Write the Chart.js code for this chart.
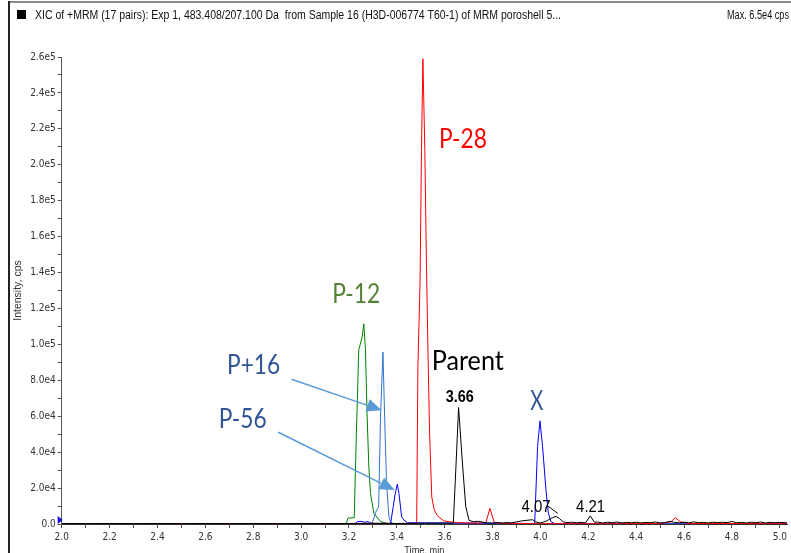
<!DOCTYPE html>
<html>
<head>
<meta charset="utf-8">
<script src="https://cdn.jsdelivr.net/npm/chart.js@4.4.0/dist/chart.umd.min.js"></script>
<style>
html, body { margin: 0; padding: 0; background: #fff; }
#wrap { width: 791px; height: 553px; position: relative; }
</style>
</head>
<body>
<div id="wrap"><canvas id="xic" width="791" height="553"></canvas></div>
<script>
// XIC traces (time in min, intensity in cps)
const parentTime = [
	2.00, 2.10, 2.20, 2.30, 2.40, 2.50, 2.60, 2.70, 2.80, 2.90,
	3.00, 3.10, 3.20, 3.30, 3.40, 3.50, 3.60, 3.636, 3.647, 3.658,
	3.674, 3.688, 3.702, 3.72, 3.74, 3.76, 3.78, 3.80, 3.82, 3.84,
	3.86, 3.88, 3.90, 3.92, 3.94, 3.967, 3.98, 3.995, 4.01, 4.03,
	4.045, 4.065, 4.08, 4.095, 4.11, 4.13, 4.15, 4.17, 4.188, 4.208,
	4.226, 4.24, 4.26, 4.28, 4.30, 4.32, 4.34, 4.36, 4.38, 4.40,
	4.42, 4.44, 4.46, 4.48, 4.50, 4.52, 4.54, 4.56, 4.58, 4.60,
	4.62, 4.64, 4.66, 4.68, 4.70, 4.72, 4.74, 4.76, 4.78, 4.80,
	4.82, 4.84, 4.86, 4.88, 4.90, 4.92, 4.94, 4.96, 4.98, 5.00,
	5.03
]
const parentInt = [
	300, 200, 300, 200, 300, 200, 300, 200, 300, 200,
	300, 200, 300, 400, 300, 400, 500, 500, 32000, 64800,
	34000, 9600, 2000, 1300, 1500, 1000, 600, 500, 900, 500,
	800, 600, 1200, 1700, 2000, 2400, 1200, 600, 900, 2000,
	3200, 4200, 3000, 1200, 800, 1000, 700, 900, 600, 4500,
	900, 1100, 600, 1000, 700, 1100, 600, 900, 700, 1000,
	600, 900, 700, 1100, 600, 800, 1500, 900, 700, 1000,
	600, 1200, 700, 900, 600, 1000, 700, 1000, 800, 1400,
	700, 900, 600, 1000, 700, 1100, 600, 900, 700, 900,
	700
]

const p28Time = [
	2.00, 3.476, 3.483, 3.488, 3.497, 3.503, 3.509, 3.517, 3.524, 3.530,
	3.537, 3.546, 3.556, 3.570, 3.596, 3.62, 3.65, 3.70, 3.74, 3.772,
	3.789, 3.807, 3.83, 3.90, 4.00, 4.30, 4.50, 4.545, 4.563, 4.585,
	4.62, 5.03
]
const p28Int = [
	0, 200, 1000, 87000, 134000, 208000, 259000, 208000, 143000, 97000,
	50000, 15000, 8000, 4500, 1800, 1200, 800, 600, 500, 800,
	8700, 900, 400, 300, 200, 200, 300, 1200, 3500, 1200,
	300, 200
]

const p12Time = [
	2.00, 3.18, 3.190, 3.196, 3.222, 3.231, 3.241, 3.255, 3.262, 3.269,
	3.276, 3.283, 3.290, 3.304, 3.332, 3.36, 3.40, 5.03
]
const p12Int = [
	0, 0, 800, 3300, 3500, 50000, 97000, 104000, 111500, 97000,
	60000, 32000, 17000, 6000, 1300, 400, 0, 0
]

const p16Time = [
	2.00, 3.28, 3.298, 3.311, 3.324, 3.332, 3.342, 3.349, 3.357, 3.367,
	3.374, 3.39, 5.03
]
const p16Int = [
	0, 0, 500, 6500, 9500, 60000, 95700, 60000, 23000, 4000,
	1000, 0, 0
]

// P-56 and X share one trace
const p56Time = [
	2.00, 3.225, 3.235, 3.25, 3.265, 3.28, 3.295, 3.374, 3.385, 3.392,
	3.402, 3.409, 3.420, 3.430, 3.444, 3.976, 3.988, 3.998, 4.009, 4.023,
	4.033, 4.044, 4.058, 4.10, 5.03
]
const p56Int = [
	0, 0, 1300, 1500, 1000, 1300, 300, 300, 9600, 16000,
	22200, 17000, 4000, 2200, 700, 300, 43000, 57400, 43000, 19000,
	6000, 1300, 300, 0, 0
]

// text notes placed in data units: [text, time, intensity]
const notes = [
	['P-28', 3.576, 209500],
	['P-12', 3.130, 123300],
	['Parent', 3.546, 85560],
	['P+16', 2.691, 83730],
	['P-56', 2.656, 53170],
	['X', 3.957, 63340]
]
const peakLabels = [
	['3.66', 3.604, 67950],
	['4.07', 3.921, 6830],
	['4.21', 4.149, 6830]
]
// arrows [fromTime, fromInt, toTime, toInt]
const arrows = [
	[2.960, 80560, 3.337, 63340],
	[2.905, 51100, 3.391, 18890]
]

const narrow = '"Liberation Sans Narrow", "DejaVu Sans Condensed", sans-serif'
const arial = '"Liberation Sans", Arial, sans-serif'
const office = 'Lato, "Open Sans", sans-serif'

function pts(t, v) {
	return t.map((x, i) => ({ x: x, y: v[i] }))
}

function trace(data, color) {
	return {
		data: data,
		borderColor: color,
		borderWidth: 1,
		pointRadius: 0,
		tension: 0,
		fill: false
	}
}

function fmtY(v) {
	if (v === 0) return '0.0'
	if (v >= 1e5) return (v / 1e5).toFixed(1) + 'e5'
	return (v / 1e4).toFixed(1) + 'e4'
}

const notesPlugin = {
	id: 'notes',
	afterDraw(chart) {
		const { ctx } = chart
		const sx = chart.scales.x
		const sy = chart.scales.y
		const px = t => sx.getPixelForValue(t)
		const py = v => sy.getPixelForValue(v)
		ctx.save()

		// window frame + header
		ctx.fillStyle = '#8a8a8a'
		ctx.fillRect(8, 1, 783, 2)
		ctx.fillStyle = '#222'
		ctx.fillRect(8, 1, 2, 552)
		ctx.fillStyle = '#000'
		ctx.fillRect(17, 10, 9, 9)
		ctx.font = '12px ' + arial
		ctx.textBaseline = 'alphabetic'
		ctx.textAlign = 'left'
		ctx.fillStyle = '#111'
		ctx.fillText('XIC of +MRM (17 pairs): Exp 1, 483.408/207.100 Da  from Sample 16 (H3D-006774 T60-1) of MRM poroshell 5...', 35, 19, 526)
		ctx.textAlign = 'right'
		ctx.font = '12px ' + arial
		ctx.fillText('Max. 6.5e4 cps', 789, 19, 62)

		// axis titles
		ctx.font = '10.5px ' + arial
		ctx.fillStyle = '#333'
		ctx.textAlign = 'center'
		ctx.fillText('Time, min', (sx.left + sx.right) / 2, 554, 40)
		ctx.save()
		ctx.translate(21, (sy.top + sy.bottom) / 2)
		ctx.rotate(-Math.PI / 2)
		ctx.fillText('Intensity, cps', 0, 0, 62)
		ctx.restore()

		// little blue flag at the origin
		ctx.fillStyle = '#1010e0'
		ctx.beginPath()
		ctx.moveTo(px(2.0) - 4, py(0) - 8)
		ctx.lineTo(px(2.0) + 1, py(0) - 4)
		ctx.lineTo(px(2.0) - 4, py(0))
		ctx.closePath()
		ctx.fill()

		// arrows
		ctx.strokeStyle = '#5b9bd5'
		ctx.fillStyle = '#5b9bd5'
		ctx.lineWidth = 1.5
		arrows.forEach(a => {
			const x1 = px(a[0]), y1 = py(a[1]), x2 = px(a[2]), y2 = py(a[3])
			const ang = Math.atan2(y2 - y1, x2 - x1)
			const len = 15, half = 6.5
			const bx = x2 - len * Math.cos(ang), by = y2 - len * Math.sin(ang)
			ctx.beginPath()
			ctx.moveTo(x1, y1)
			ctx.lineTo(bx, by)
			ctx.stroke()
			ctx.beginPath()
			ctx.moveTo(x2, y2)
			ctx.lineTo(bx + half * Math.sin(ang), by - half * Math.cos(ang))
			ctx.lineTo(bx - half * Math.sin(ang), by + half * Math.cos(ang))
			ctx.closePath()
			ctx.fill()
		})

		// big callouts
		const noteColor = { 'P-28': '#ff0000', 'P-12': '#548235', 'Parent': '#000', 'P+16': '#2f5597', 'P-56': '#2f5597', 'X': '#2f5597' }
		const noteWidth = { 'P-28': 48, 'P-12': 48, 'Parent': 72, 'P+16': 53, 'P-56': 48, 'X': 13 }
		ctx.textAlign = 'left'
		ctx.font = '26px ' + office
		notes.forEach(n => {
			ctx.fillStyle = noteColor[n[0]]
			ctx.fillText(n[0], px(n[1]), py(n[2]), noteWidth[n[0]])
		})

		// peak time labels
		ctx.fillStyle = '#000'
		peakLabels.forEach((p, i) => {
			ctx.font = (i === 0 ? 'bold 17px ' : '17px ') + arial
			ctx.fillText(p[0], px(p[1]), py(p[2]), i === 0 ? 28 : 29)
		})
		ctx.strokeStyle = '#000'
		ctx.lineWidth = 1
		ctx.beginPath()
		ctx.moveTo(px(4.031), py(10000))
		ctx.lineTo(px(4.072), py(5950))
		ctx.stroke()

		ctx.restore()
	}
}

Chart.defaults.font.family = narrow

new Chart(document.getElementById('xic').getContext('2d'), {
	type: 'line',
	data: {
		datasets: [
			trace(pts(parentTime, parentInt), '#000000'),
			trace(pts(p28Time, p28Int), '#ff0000'),
			trace(pts(p56Time, p56Int), '#0000ff'),
			trace(pts(p16Time, p16Int), '#2e75c9'),
			trace(pts(p12Time, p12Int), '#008000')
		]
	},
	options: {
		responsive: false,
		animation: false,
		parsing: false,
		layout: { padding: { left: 9, right: 4, top: 57, bottom: 0 } },
		plugins: { legend: { display: false }, tooltip: { enabled: false } },
		scales: {
			x: {
				type: 'linear',
				min: 2.0,
				max: 5.03,
				afterFit: s => { s.height = 29 },
				border: { color: '#333', width: 1 },
				grid: { drawOnChartArea: false, tickLength: 4, color: '#555' },
				ticks: {
					stepSize: 0.1,
					includeBounds: false,
					autoSkip: false,
					maxRotation: 0,
					padding: 3,
					color: '#333',
					font: { size: 10 },
					callback: v => (Math.round(v * 10) % 2 === 0 ? v.toFixed(1) : '')
				}
			},
			y: {
				min: 0,
				max: 2.6e5,
				afterFit: s => { s.width = 52.7 },
				border: { color: '#555', width: 1 },
				grid: { drawOnChartArea: false, tickLength: 4, color: '#555' },
				ticks: {
					stepSize: 1e4,
					autoSkip: false,
					padding: 2,
					color: '#333',
					font: { size: 10 },
					callback: v => (Math.round(v / 1e4) % 2 === 0 ? fmtY(v) : '')
				}
			}
		}
	},
	plugins: [notesPlugin]
})
</script>
</body>
</html>
